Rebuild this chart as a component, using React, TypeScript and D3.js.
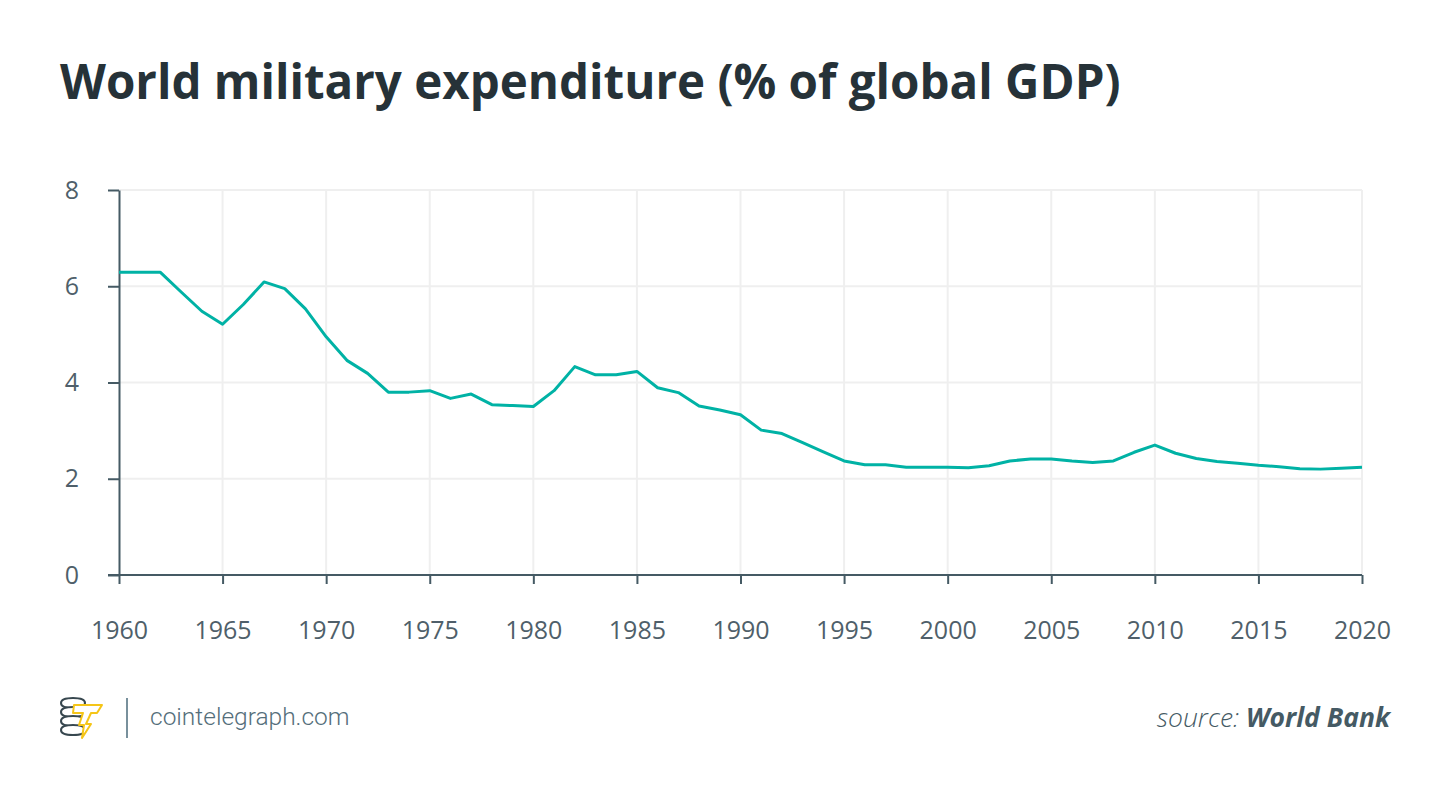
import { useEffect, useRef } from 'react';
import * as d3 from 'd3';

// World Bank, military expenditure (% of GDP), world
const years = d3.range(1960, 2021);
const values = [
  6.29, 6.29, 6.29, 5.88, 5.48, 5.21, 5.62, 6.09, 5.95, 5.53,
  4.95, 4.46, 4.19, 3.8, 3.8, 3.83, 3.67, 3.76, 3.54, 3.52,
  3.5, 3.83, 4.33, 4.16, 4.16, 4.23, 3.89, 3.79, 3.51, 3.43,
  3.33, 3.01, 2.94, 2.75, 2.56, 2.37, 2.29, 2.29, 2.24, 2.24,
  2.24, 2.23, 2.27, 2.37, 2.41, 2.41, 2.37, 2.34, 2.37, 2.55,
  2.7, 2.53, 2.42, 2.36, 2.32, 2.28, 2.25, 2.21, 2.2, 2.22,
  2.24,
];
const xTicks = d3.range(1960, 2021, 5);
const yTicks = [0, 2, 4, 6, 8];

const W = 1450;
const H = 798;

export default function App() {
  const svgRef = useRef<SVGSVGElement>(null);

  useEffect(() => {
    if (!svgRef.current) return;
    const svg = d3.select(svgRef.current);
    svg.selectAll('*').remove();

    const left = 119;
    const right = 1362;
    const top = 190;
    const bottom = 575;

    const x = d3.scaleLinear().domain([1960, 2020]).range([left, right]);
    const y = d3.scaleLinear().domain([0, 8]).range([bottom, top]);

    svg.append('rect').attr('width', W).attr('height', H).attr('fill', '#fff');

    // title
    svg.append('text')
      .attr('x', 60)
      .attr('y', 99)
      .attr('font-family', 'Open Sans')
      .attr('font-weight', 700)
      .attr('font-size', 47.5)
      .attr('fill', '#263238')
      .text('World military expenditure (% of global GDP)');

    // grid
    const grid = svg.append('g');
    grid.selectAll('.vg')
      .data(xTicks.slice(1))
      .enter().append('line')
      .attr('x1', d => x(d)).attr('x2', d => x(d))
      .attr('y1', top).attr('y2', bottom)
      .attr('stroke', '#efefef').attr('stroke-width', 2);
    grid.selectAll('.hg')
      .data(yTicks.slice(1))
      .enter().append('line')
      .attr('x1', left).attr('x2', right)
      .attr('y1', d => y(d)).attr('y2', d => y(d))
      .attr('stroke', '#efefef').attr('stroke-width', 2);

    const axisColor = '#455a64';

    // y axis
    const yAxis = svg.append('g')
      .attr('transform', `translate(${left},0)`)
      .call(d3.axisLeft(y).tickValues(yTicks).tickSize(11).tickPadding(29).tickSizeOuter(0));
    yAxis.select('.domain').attr('stroke', axisColor).attr('stroke-width', 2);
    yAxis.selectAll('.tick line').attr('stroke', axisColor).attr('stroke-width', 2);
    yAxis.selectAll('.tick text')
      .attr('font-family', 'Open Sans')
      .attr('font-weight', 400)
      .attr('font-size', 25)
      .attr('fill', '#4f5f6a');

    // x axis
    const xAxis = svg.append('g')
      .attr('transform', `translate(0,${bottom})`)
      .call(d3.axisBottom(x).tickValues(xTicks).tickFormat(d3.format('d')).tickSize(9).tickPadding(37).tickSizeOuter(0));
    xAxis.select('.domain').attr('stroke', axisColor).attr('stroke-width', 2)
      .attr('d', `M${left - 11},0H${right}`);
    xAxis.selectAll('.tick line').attr('stroke', axisColor).attr('stroke-width', 2);
    xAxis.selectAll('.tick text')
      .attr('font-family', 'Open Sans')
      .attr('font-weight', 400)
      .attr('font-size', 25)
      .attr('fill', '#4f5f6a');

    // line
    const line = d3.line<number>()
      .x((_, i) => x(years[i]))
      .y(d => y(d));
    svg.append('path')
      .datum(values)
      .attr('d', line)
      .attr('fill', 'none')
      .attr('stroke', '#00b2a5')
      .attr('stroke-width', 3)
      .attr('stroke-linejoin', 'round');

    // footer logo
    const logo = svg.append('g').attr('transform', 'translate(60,698)');
    [0, 9, 18, 27].forEach(dy => {
      logo.append('path')
        .attr('d', `M1,${dy + 5} Q1,${dy} 13,${dy} Q25,${dy} 25,${dy + 5} Q25,${dy + 10} 13,${dy + 10} Q1,${dy + 10} 1,${dy + 5}Z`)
        .attr('fill', '#fff')
        .attr('stroke', '#37474f')
        .attr('stroke-width', 2);
    });
    logo.append('path')
      .attr('d', 'M14,7 L42,7 L37,15 L31,15 L26,26 L31,26 L22,40 L24,27 L19,27 L23,15 L13,15 Z')
      .attr('fill', '#fff')
      .attr('stroke', '#f5c518')
      .attr('stroke-width', 2)
      .attr('stroke-linejoin', 'round');

    svg.append('line')
      .attr('x1', 127).attr('x2', 127)
      .attr('y1', 698).attr('y2', 738)
      .attr('stroke', '#78909c').attr('stroke-width', 2);

    svg.append('text')
      .attr('x', 150)
      .attr('y', 725)
      .attr('font-family', 'Roboto')
      .attr('font-weight', 300)
      .attr('font-size', 24.5)
      .attr('fill', '#546e7a')
      .text('cointelegraph.com');

    const src = svg.append('text')
      .attr('x', 1390)
      .attr('y', 727)
      .attr('text-anchor', 'end')
      .attr('font-family', 'Open Sans')
      .attr('font-style', 'italic')
      .attr('font-size', 26.5)
      .attr('fill', '#455a64');
    src.append('tspan').attr('font-weight', 300).text('source: ');
    src.append('tspan').attr('font-weight', 700).text('World Bank');
  }, []);

  return (
    <svg
      ref={svgRef}
      width={W}
      height={H}
      style={{ display: 'block', position: 'absolute', left: 0, top: 0 }}
    />
  );
}
